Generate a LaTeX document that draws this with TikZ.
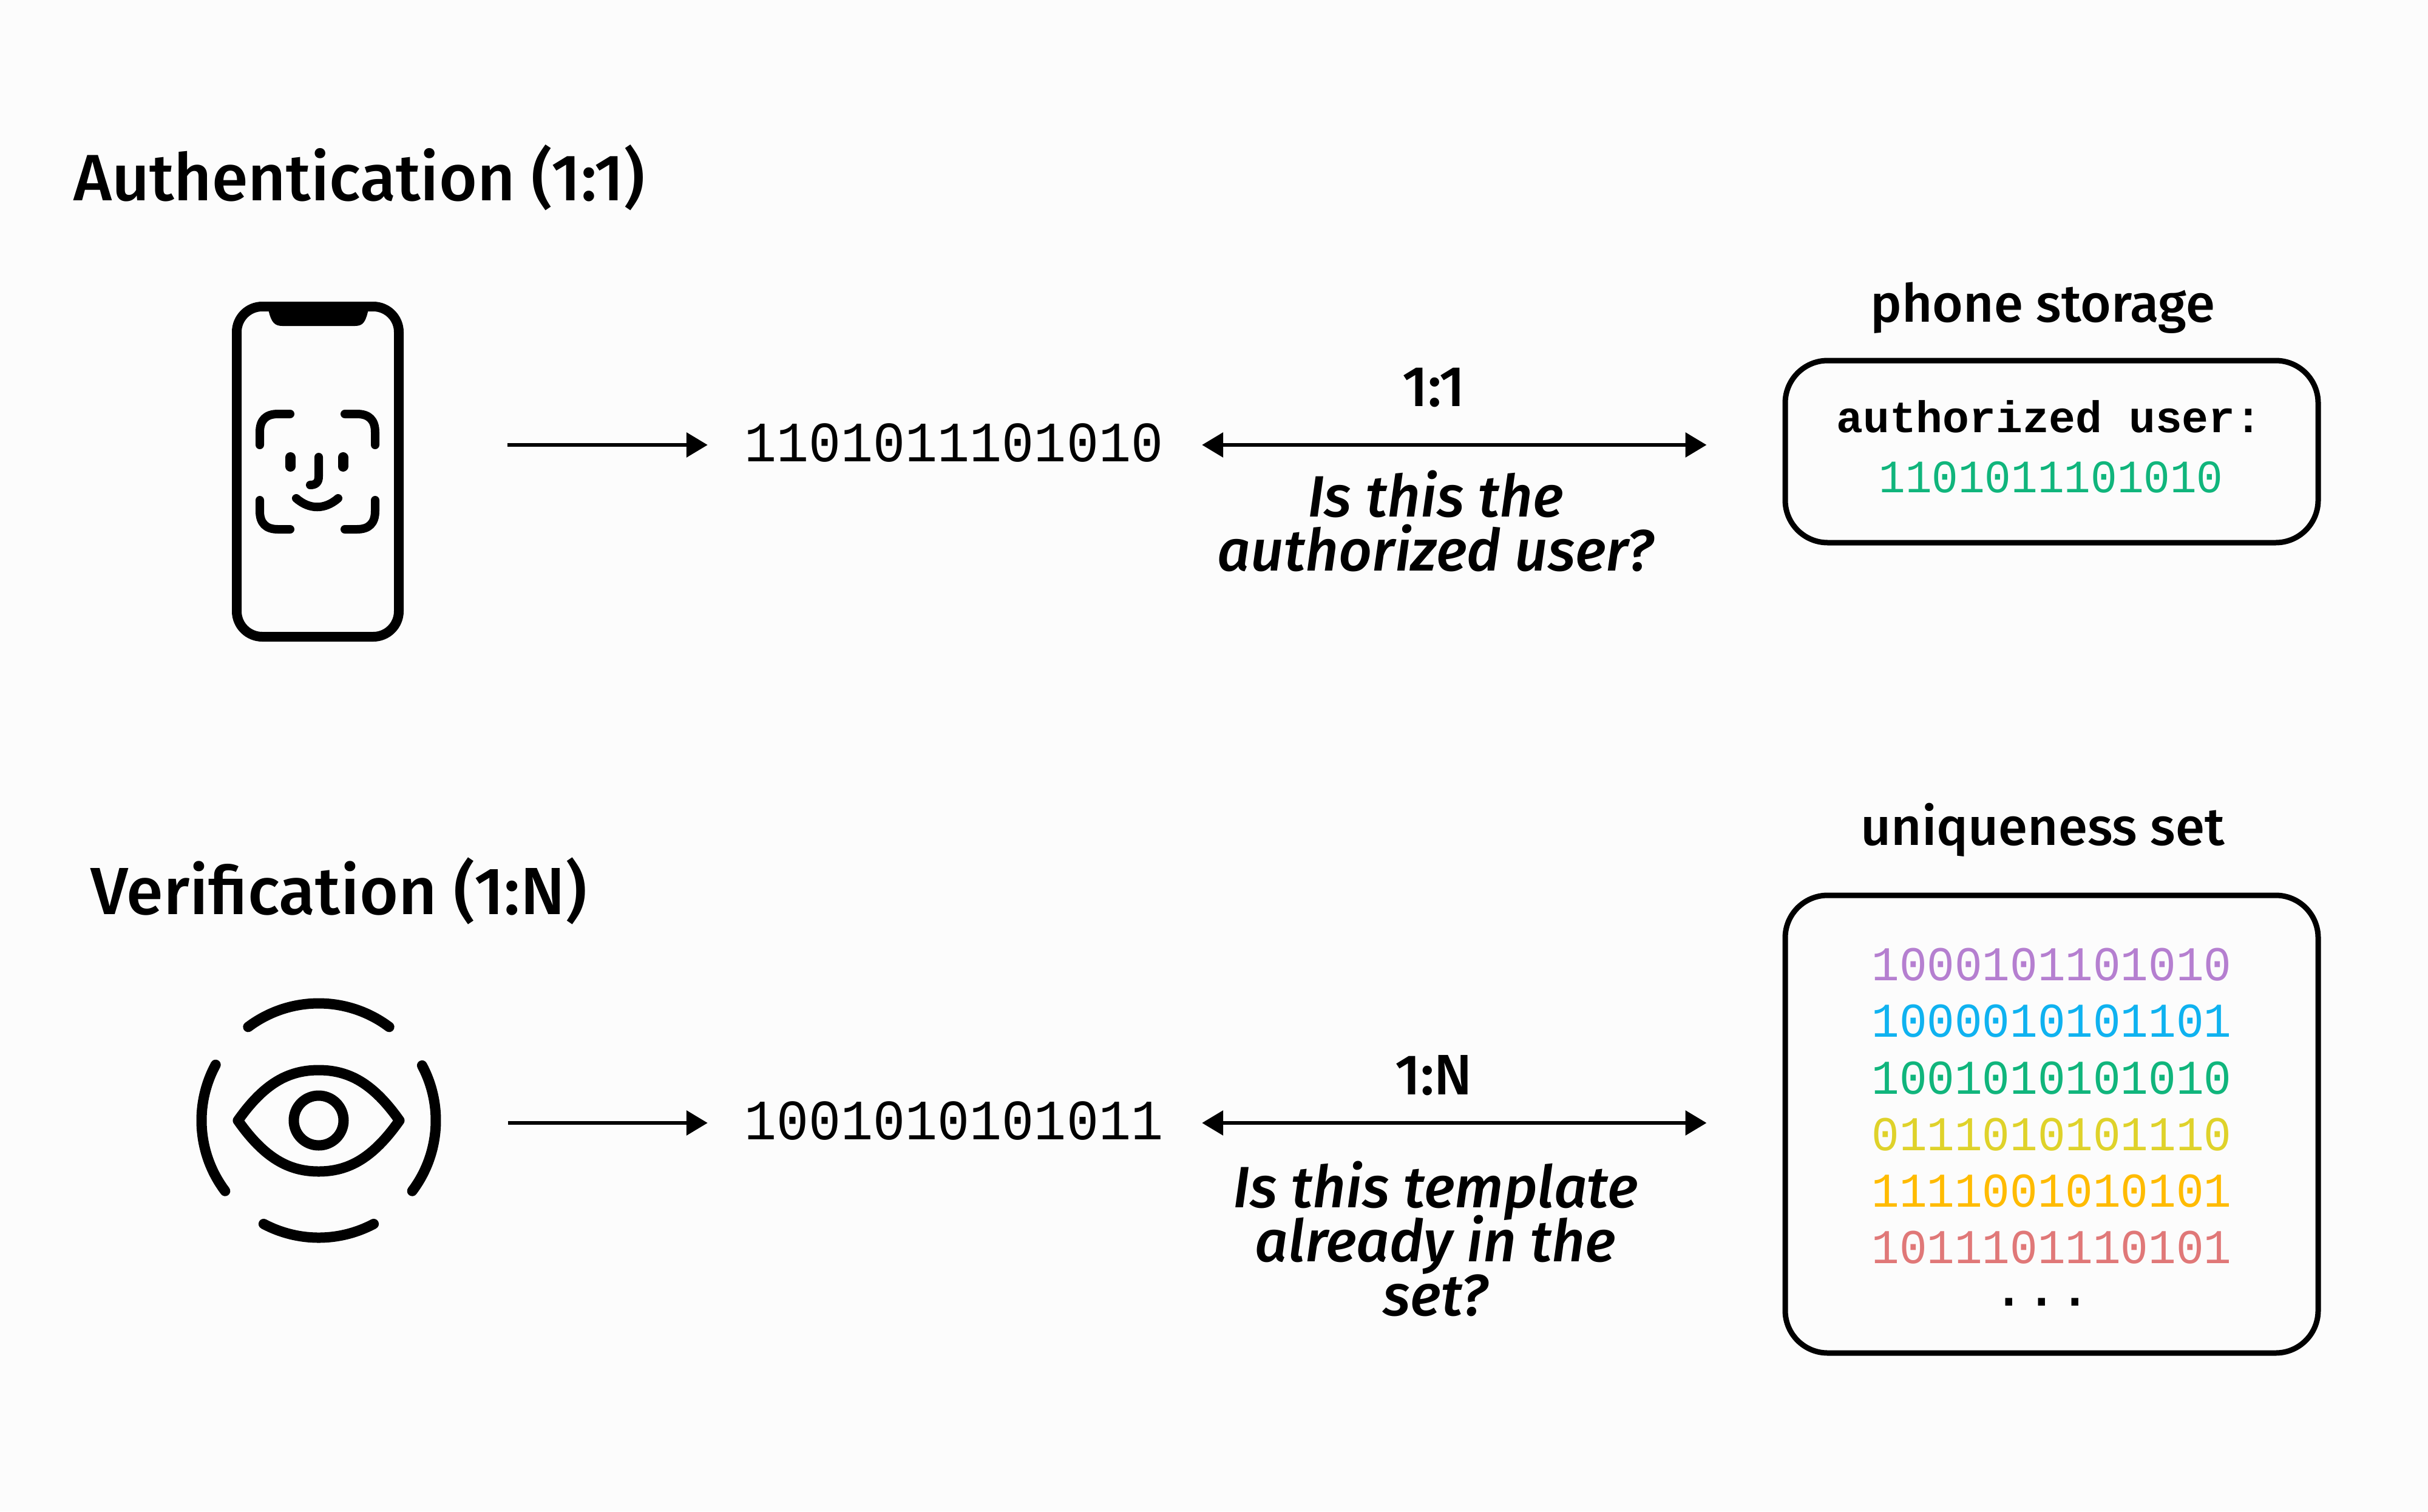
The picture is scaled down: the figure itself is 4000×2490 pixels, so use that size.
\documentclass[tikz,border=0pt]{standalone}
\usepackage{fontspec}
\usetikzlibrary{arrows.meta}
\setmainfont{Liberation Sans}
\newfontfamily\hd[ItalicFont={Fira Sans Medium Italic}]{Fira Sans Medium}
\newfontfamily\binbig[FakeStretch=.94]{Liberation Mono}
\newfontfamily\binsmall[FakeStretch=.95]{Liberation Mono}
\newfontfamily\binplain{Liberation Mono}
\newcommand\tightlines{\lineskiplimit=-100pt\relax}
\definecolor{bgc}{HTML}{FCFCFC}
\definecolor{c1}{HTML}{B57FD0}
\definecolor{c2}{HTML}{0FB2F0}
\definecolor{c3}{HTML}{10B57C}
\definecolor{c4}{HTML}{DFD22A}
\definecolor{c5}{HTML}{FFBB00}
\definecolor{c6}{HTML}{E07878}
\tikzset{
  head/.style={inner sep=0pt,anchor=base,font=\hd\fontsize{108}{120}\selectfont},
  sub/.style={inner sep=0pt,anchor=base,font=\hd\fontsize{87}{96}\selectfont},
  ratio/.style={inner sep=0pt,anchor=base,font=\hd\fontsize{94}{100}\selectfont},
  ask/.style={inner sep=0pt,align=center,font=\hd\itshape\fontsize{96}{89}\selectfont\tightlines},
  binmain/.style={inner sep=0pt,minimum width=814pt,text height=54pt,text depth=0pt,font=\binbig\fontsize{94}{100}\selectfont},
  binrow/.style={inner sep=0pt,anchor=base,font=\binsmall\fontsize{80}{90}\selectfont},
  store/.style={draw=black,line width=9pt,rounded corners=70pt,inner sep=0pt,minimum width=878pt},
  conn/.style={draw=black,line width=6.5pt,-{Triangle[length=35pt,width=40pt]}},
  biconn/.style={draw=black,line width=6.5pt,{Triangle[length=35pt,width=40pt]}-{Triangle[length=35pt,width=40pt]}},
  icon/.style={draw=black,line cap=round,line join=round,line width=14pt},
  ring/.style={draw=black,line cap=round,line join=round,line width=17pt},
}
\begin{document}
\begin{tikzpicture}[x=1pt,y=-1pt]
\path[use as bounding box,fill=bgc] (0,0) rectangle (4000,2490);

% headings
\node[head] (h1) at (592,330) {Authentication (1:1)};
\node[head,font=\hd\fontsize{110}{120}\selectfont] (h2) at (558,1506) {Verification (1:N)};

% phone
\node[draw=black,line width=16pt,rounded corners=42pt,inner sep=0pt,minimum width=267pt,minimum height=544pt] (phone) at (523.5,777) {};
\fill[black] (441,505) -- (443,514) .. controls (447,530) and (452,537) .. (465,537) -- (585,537) .. controls (598,537) and (602,530) .. (606,514) -- (608,505) -- cycle;
\draw[icon] (478,682) -- (458,682) .. controls (438,682) and (428,692) .. (428,712) -- (428,733);
\draw[icon] (568,682) -- (588,682) .. controls (608,682) and (618,692) .. (618,712) -- (618,733);
\draw[icon] (428,824) -- (428,842) .. controls (428,862) and (438,872) .. (458,872) -- (478,872);
\draw[icon] (618,824) -- (618,842) .. controls (618,862) and (608,872) .. (588,872) -- (568,872);
\draw[icon,line width=17pt] (478.5,753.5) -- (478.5,768.5);
\draw[icon,line width=17pt] (565,753.5) -- (565,768.5);
\draw[icon] (525,753) -- (525,785) .. controls (525,795) and (520,799) .. (511,799);
\draw[icon] (488,821) .. controls (510,840) and (535,840) .. (557,821);

% eye
\node[draw=black,line width=17pt,circle,inner sep=0pt,minimum size=82pt] (pupil) at (525,1846) {};
\draw[ring] (392,1846) .. controls (435,1785) and (475,1763) .. (525,1763) .. controls (575,1763) and (615,1785) .. (658,1846) .. controls (615,1907) and (575,1930) .. (525,1930) .. controls (475,1930) and (435,1907) .. (392,1846) -- cycle;
\draw[ring] plot[domain=53:127,samples=30,smooth] ({525+193*cos(\x)},{1846-193*sin(\x)});
\draw[ring] plot[domain=151.6:217,samples=30,smooth] ({525+193*cos(\x)},{1846-193*sin(\x)});
\draw[ring] plot[domain=242:298,samples=30,smooth] ({525+193*cos(\x)},{1846-193*sin(\x)});
\draw[ring] plot[domain=-37:28,samples=30,smooth] ({525+193*cos(\x)},{1846-193*sin(\x)});

% binaries
\node[binmain] (bin1) at (1573,733) {1101011101010\kern3pt};
\node[binmain] (bin2) at (1573,1850) {1001010101011\kern3pt};

% stores
\node[store,minimum height=300pt] (box1) at (3380,744) {};
\node[store,minimum height=754pt] (box2) at (3380,1852) {};
\node[sub] (t1) at (3365,530) {phone storage};
\node[sub] (t2) at (3365,1392) {uniqueness set};

\node[binrow,font=\binplain\bfseries\fontsize{73}{80}\selectfont] (au) at (3376,712.7) {authorized user:};
\node[binrow,text=c3,font=\binsmall\fontsize{76.5}{80}\selectfont] (auv) at (3379,811.7) {1101011101010};

\node[binrow,text=c1] (r1) at (3380,1615.4) {1000101101010};
\node[binrow,text=c2] (r2) at (3380,1708.6) {1000010101101};
\node[binrow,text=c3] (r3) at (3380,1802) {1001010101010};
\node[binrow,text=c4] (r4) at (3380,1895.5) {0111010101110};
\node[binrow,text=c5] (r5) at (3380,1988.7) {1111001010101};
\node[binrow,text=c6] (r6) at (3380,2081.4) {1011101110101};
\node[binrow,text height=14pt,text depth=0pt,font=\binsmall\bfseries\fontsize{85}{90}\selectfont] (dots) at (3364,2151.5) {.\kern6pt.\kern6pt.};

% connectors
\draw[conn,shorten <=171pt] (phone.east |- bin1.west) -- (bin1.west);
\draw[biconn,shorten >=125pt] (bin1.east) -- (bin1.east -| box1.west);
\draw[conn,shorten <=262pt] (pupil.east |- bin2.west) -- (bin2.west);
\draw[biconn,shorten >=125pt] (bin2.east) -- (bin2.east -| box2.west);

% labels
\node[ratio] (l1) at (2362,669) {1:1};
\node[ratio] (l2) at (2362,1803) {1:N};
\node[ask] (q1) at (2365,858) {Is this the\\authorized user?};
\node[ask] (q2) at (2365,2041) {Is this template\\already in the\\set?};
\end{tikzpicture}
\end{document}
